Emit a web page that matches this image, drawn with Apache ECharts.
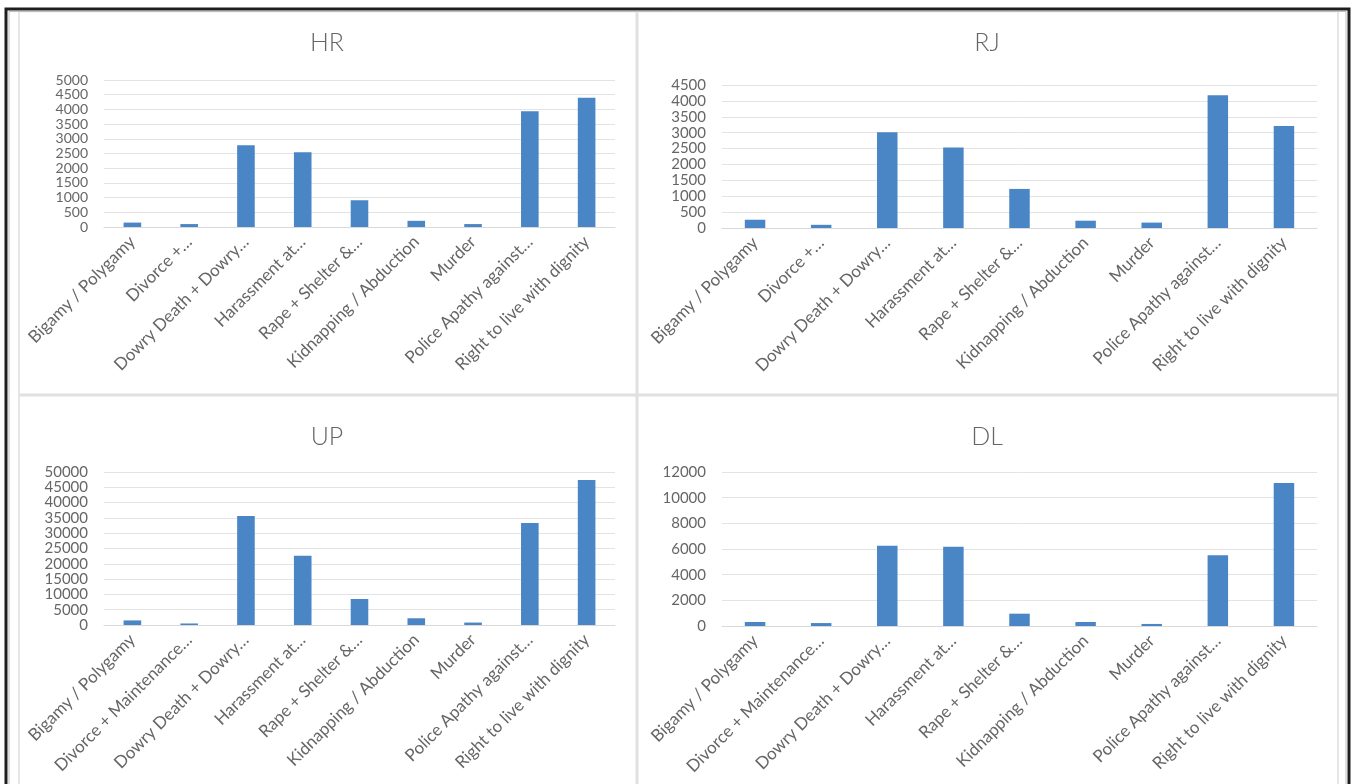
<!DOCTYPE html>
<html>
<head>
<meta charset="utf-8">
<script src="https://cdn.jsdelivr.net/npm/echarts@6/dist/echarts.min.js"></script>
<style>
  html, body { margin: 0; padding: 0; background: #ffffff; }
  #chart { width: 1352px; height: 784px; }
</style>
</head>
<body>
<div id="chart"></div>
<script>
// Complaint categories (labels as shown on the axes)
const categoriesShort = [
  'Bigamy / Polygamy', 'Divorce +…', 'Dowry Death + Dowry…', 'Harassment at…',
  'Rape + Shelter &…', 'Kidnapping / Abduction', 'Murder',
  'Police Apathy against…', 'Right to live with dignity'
];
const categoriesLong = [
  'Bigamy / Polygamy', 'Divorce + Maintenance…', 'Dowry Death + Dowry…', 'Harassment at…',
  'Rape + Shelter &…', 'Kidnapping / Abduction', 'Murder',
  'Police Apathy against…', 'Right to live with dignity'
];

// Complaint counts per state
const valuesHR = [150, 100, 2780, 2540, 910, 210, 100, 3940, 4400];
const valuesRJ = [260, 100, 3010, 2530, 1230, 230, 170, 4180, 3210];
const valuesUP = [1500, 500, 35600, 22600, 8500, 2200, 800, 33300, 47400];
const valuesDL = [310, 230, 6250, 6170, 960, 310, 160, 5520, 11150];

// Value-axis ranges (max, step)
const axisHR = [5000, 500];
const axisRJ = [4500, 500];
const axisUP = [50000, 5000];
const axisDL = [12000, 2000];

const panels = [
  { title: 'HR', cats: categoriesShort, values: valuesHR, axis: axisHR, tickFont: 14,
    cx: 327, titleTop: 30, grid: { left: 104, top: 80, width: 511, height: 147 } },
  { title: 'RJ', cats: categoriesShort, values: valuesRJ, axis: axisRJ, tickFont: 15,
    cx: 987, titleTop: 30, grid: { left: 722, top: 85, width: 595, height: 143 } },
  { title: 'UP', cats: categoriesLong, values: valuesUP, axis: axisUP, tickFont: 15,
    cx: 327, titleTop: 424, grid: { left: 104, top: 472, width: 511, height: 153 } },
  { title: 'DL', cats: categoriesLong, values: valuesDL, axis: axisDL, tickFont: 15,
    cx: 987, titleTop: 424, grid: { left: 722, top: 472, width: 595, height: 154 } }
];

const FONT = 'Lato, "Open Sans", sans-serif';
const TEXT = '#666666';
const BAR = '#4a86c6';

const chart = echarts.init(document.getElementById('chart'), null, { renderer: 'canvas' });

const option = {
  animation: false,
  backgroundColor: '#ffffff',
  textStyle: { fontFamily: FONT },
  title: panels.map(p => ({
    text: p.title,
    left: p.cx,
    top: p.titleTop,
    textAlign: 'center',
    padding: 0,
    textStyle: { fontFamily: FONT, fontSize: 25, fontWeight: 300, color: TEXT }
  })),
  grid: panels.map(p => Object.assign({ containLabel: false }, p.grid)),
  xAxis: panels.map((p, i) => ({
    type: 'category',
    gridIndex: i,
    data: p.cats,
    axisTick: { show: false },
    axisLine: { show: true, lineStyle: { color: '#d9d9d9', width: 1 } },
    axisLabel: {
      interval: 0, rotate: 45, margin: 12,
      color: TEXT, fontSize: 17, fontFamily: FONT
    }
  })),
  yAxis: panels.map((p, i) => ({
    type: 'value',
    gridIndex: i,
    min: 0,
    max: p.axis[0],
    interval: p.axis[1],
    axisLine: { show: false },
    axisTick: { show: false },
    axisLabel: {
      color: TEXT, fontSize: p.tickFont, fontFamily: FONT, margin: 16,
      showMinLabel: true, showMaxLabel: true, hideOverlap: false,
      formatter: v => String(v)
    },
    splitLine: { lineStyle: { color: '#e3e3e3', width: 1 } }
  })),
  series: panels.map((p, i) => ({
    type: 'bar',
    name: p.title,
    xAxisIndex: i,
    yAxisIndex: i,
    data: p.values,
    barWidth: '31%',
    itemStyle: { color: BAR }
  })),
  graphic: [
    // panel dividers
    { type: 'line', silent: true, shape: { x1: 19, y1: 11, x2: 19, y2: 784 },
      style: { stroke: '#e6e6e6', lineWidth: 2 } },
    { type: 'line', silent: true, shape: { x1: 637, y1: 11, x2: 637, y2: 784 },
      style: { stroke: '#e0e0e0', lineWidth: 3 } },
    { type: 'line', silent: true, shape: { x1: 1338, y1: 11, x2: 1338, y2: 784 },
      style: { stroke: '#e6e6e6', lineWidth: 2 } },
    { type: 'line', silent: true, shape: { x1: 19, y1: 395, x2: 1338, y2: 395 },
      style: { stroke: '#e0e0e0', lineWidth: 3 } },
    { type: 'line', silent: true, shape: { x1: 19, y1: 12, x2: 1338, y2: 12 },
      style: { stroke: '#ececec', lineWidth: 1 } },
    // outer frame
    { type: 'rect', silent: true, shape: { x: 9, y: 11.5, width: 1337, height: 800 },
      style: { fill: 'none', stroke: '#bdbdbd', lineWidth: 1 } },
    { type: 'rect', silent: true, shape: { x: 6, y: 9, width: 1343, height: 800 },
      style: { fill: 'none', stroke: '#1e1e1e', lineWidth: 3 } }
  ]
};

chart.setOption(option);
</script>
</body>
</html>
